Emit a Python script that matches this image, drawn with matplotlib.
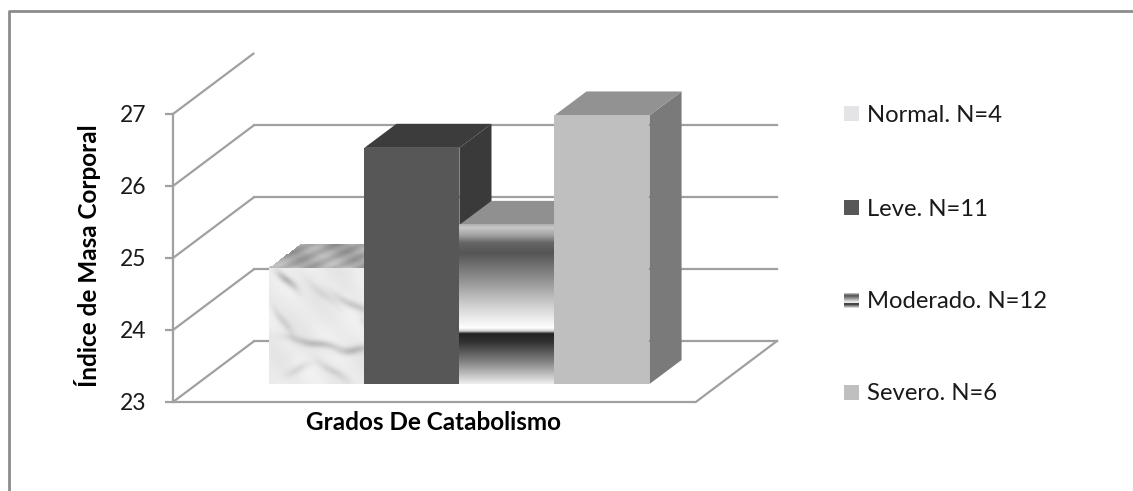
import matplotlib
matplotlib.use('Agg')
import matplotlib.pyplot as plt
import numpy as np
from matplotlib.colors import LinearSegmentedColormap
from matplotlib.lines import Line2D
from matplotlib.patches import Polygon, Rectangle

plt.rcParams['font.family'] = ['Lato', 'DejaVu Sans']

categories = ['Normal. N=4', 'Leve. N=11', 'Moderado. N=12', 'Severo. N=6']
values = [24.61, 26.28, 25.21, 26.73]
y_ticks = [23, 24, 25, 26, 27]
x_title = 'Grados De Catabolismo'
y_title = 'Índice de Masa Corporal'

W, H = 1133, 491
GRID = '#a0a0a0'
TEXT = '#1a1a1a'

# oblique projection of the back wall, in data units
DEPTH_X = 81 / 94.75
DEPTH_Y = 61 / 72
BAR_DX = 32 / 94.75
BAR_DY = 24 / 72
# how far the bars stand in from the front of the floor
INSET_X = 24 / 94.75
INSET_Y = 18 / 72

# colour stops of the banded bar, 0 = top of the bar, 1 = bottom
band_pos = [0, .02, .07, .115, .18, .345, .51, .62, .65, .67, .685, .74, .87, 1]
band_col = ['#b0b0b0', '#c8c8c8', '#a0a0a0', '#666666', '#555555', '#909090', '#d0d0d0',
            '#f5f5f5', '#ffffff', '#cccccc', '#222222', '#333333', '#888888', '#eeeeee']
band_cmap = LinearSegmentedColormap.from_list('band', list(zip(band_pos, band_col)))


def marble(ny, nx):
    # soft diagonal grey streaks on a pale ground, only a texture
    yy, xx = np.mgrid[0:ny, 0:nx]
    xx = xx / max(nx, ny) * 6
    yy = yy / max(nx, ny) * 6
    out = np.full(xx.shape, 0.92)
    out += 0.012 * (np.sin(xx * 1.3 + yy * 0.9) + np.sin(xx * 2.9 - yy * 2.2 + 1.0))
    # short blurred veins: (centre x, centre y, angle, length, strength)
    veins = [(0.9, 0.6, 0.8, 0.7, .22), (4.4, 1.9, 0.5, 1.2, .14), (2.5, 3.9, 0.2, 1.5, .18),
             (4.5, 4.2, -0.1, 0.8, .16), (0.7, 2.7, 1.0, 0.9, .10), (3.3, 5.3, 0.6, 0.9, .10),
             (1.5, 5.2, -0.4, 0.7, .08), (5.2, 3.0, 0.9, 0.6, .08), (2.9, 1.4, 0.7, 1.0, .07)]
    for cx, cy, ang, length, strength in veins:
        dx = xx - cx
        dy = yy - cy
        along = dx * np.cos(ang) + dy * np.sin(ang)
        across = -dx * np.sin(ang) + dy * np.cos(ang) + 0.05 * np.sin(along * 3)
        out -= strength * np.exp(-(along / length) ** 2 - (across / 0.2) ** 2)
    return np.clip(out, 0, 1)


fig = plt.figure(figsize=(W / 100, H / 100), dpi=100)
ax = fig.add_axes([173 / W, 1 - 402 / H, (777 - 173) / W, (402 - 50) / H])
ax.set_xlim(-1.26, 4.24 + DEPTH_X)
ax.set_ylim(23, 23 + 352 / 72)
ax.patch.set_visible(False)
for side in ['top', 'right', 'bottom']:
    ax.spines[side].set_visible(False)
ax.spines['left'].set_bounds(23, 27)
ax.spines['left'].set_color(GRID)
ax.spines['left'].set_linewidth(1.6)
ax.set_xticks([])
ax.set_yticks(y_ticks)
ax.tick_params(axis='y', length=6, width=1.6, color=GRID, labelcolor=TEXT, labelsize=16.5, pad=13)

x0, x1 = ax.get_xlim()[0], 4.24

# floor and back wall
for v in y_ticks:
    ax.plot([x0, x0 + DEPTH_X], [v, v + DEPTH_Y], color=GRID, lw=1.6, solid_capstyle='butt', clip_on=False)
    if v < 27:
        ax.plot([x0 + DEPTH_X, x1 + DEPTH_X], [v + DEPTH_Y, v + DEPTH_Y], color=GRID, lw=1.6, clip_on=False)
ax.plot([x0, x1, x1 + DEPTH_X], [23, 23, 23 + DEPTH_Y], color=GRID, lw=1.6, clip_on=False)

# bars, drawn left to right so later bars cover the hidden faces
styles = [
    {'side': '#8a8a8a', 'top': None, 'front': None},
    {'side': '#3a3a3a', 'top': '#3c3c3c', 'front': '#575757'},
    {'side': '#6a6a6a', 'top': '#909090', 'front': None},
    {'side': '#7a7a7a', 'top': '#929292', 'front': '#bfbfbf'},
]
base = 23 + INSET_Y
for i, v in enumerate(values):
    left = i - 0.5 + INSET_X
    right = left + 1
    top = v + INSET_Y
    st = styles[i]
    ax.add_patch(Polygon([(right, base), (right + BAR_DX, base + BAR_DY), (right + BAR_DX, top + BAR_DY), (right, top)],
                         fc=st['side'], ec='none', zorder=3 + i))
    if st['top'] is not None:
        ax.add_patch(Polygon([(left, top), (left + BAR_DX, top + BAR_DY), (right + BAR_DX, top + BAR_DY), (right, top)],
                             fc=st['top'], ec='none', zorder=3 + i))
    else:
        # textured top face on a skewed mesh
        s = np.linspace(0, 1, 121)
        t = np.linspace(0, 1, 31)
        ss, tt = np.meshgrid(s, t)
        sc, tc = ss[:-1, :-1], tt[:-1, :-1]
        tex = 0.68 + 0.05 * np.sin(sc * 11 + tc * 7) + 0.04 * np.sin(sc * 23 - tc * 5 + 1) - 0.05 * tc
        ax.pcolormesh(left + ss + tt * BAR_DX, top + tt * BAR_DY, tex, cmap='gray', vmin=0, vmax=1,
                      zorder=3 + i, rasterized=True)
    if st['front'] is not None:
        ax.add_patch(Rectangle((left, base), 1, top - base, fc=st['front'], ec='none', zorder=3 + i + 0.5))
    elif i == 0:
        ax.imshow(marble(120, 100), extent=(left, right, base, top), aspect='auto', cmap='gray', vmin=0, vmax=1,
                  zorder=3 + i + 0.5)
    else:
        grad = np.linspace(0, 1, 256).reshape(-1, 1)
        ax.imshow(grad, extent=(left, right, base, top), aspect='auto', cmap=band_cmap, vmin=0, vmax=1,
                  zorder=3 + i + 0.5)
ax.set_xlim(x0, x1 + DEPTH_X)
ax.set_ylim(23, 23 + 352 / 72)

fig.text(87.5 / W, 1 - 256 / H, y_title, rotation=90, ha='center', va='center', fontsize=17.5, fontweight='bold',
         color='black')
fig.text(434 / W, 1 - 423 / H, x_title, ha='center', va='center', fontsize=17.5, fontweight='bold', color='black')

# legend, swatches in a figure-wide overlay axes measured in pixels
lax = fig.add_axes([0, 0, 1, 1])
lax.set_xlim(0, W)
lax.set_ylim(H, 0)
lax.axis('off')
lax.patch.set_visible(False)
legend_y = [114, 208, 301, 393]
for i, (name, y) in enumerate(zip(categories, legend_y)):
    box = (844, 859, y + 7, y - 8)
    if i == 0:
        lax.add_patch(Rectangle((844, y - 8), 15, 15, fc='#e4e4e6', ec='none'))
    elif i == 2:
        lax.imshow(np.linspace(0, 1, 64).reshape(-1, 1), extent=box, cmap=band_cmap, vmin=0, vmax=1, aspect='auto',
                   zorder=2)
    else:
        lax.add_patch(Rectangle((844, y - 8), 15, 15, fc=styles[i]['front'], ec='none'))
    lax.text(867, y + 1, name, ha='left', va='center', fontsize=17.2, color=TEXT)
lax.set_xlim(0, W)
lax.set_ylim(H, 0)

# chart frame: only the top and left edges show in the picture
lax.add_line(Line2D([8.5, 8.5, W], [H, 10.5, 10.5], color='#8c8c8c', lw=2))

fig.savefig('out.png', dpi=100, facecolor='white')
